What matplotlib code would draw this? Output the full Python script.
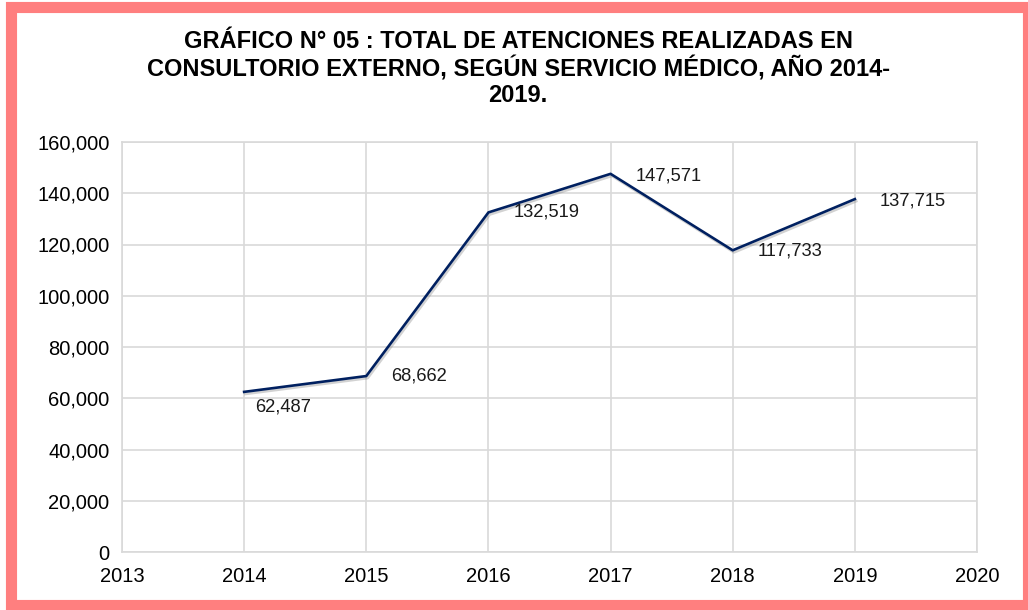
import matplotlib
matplotlib.use("Agg")
import matplotlib.pyplot as plt
import matplotlib.patheffects as pe
from matplotlib.patches import Rectangle
from matplotlib.ticker import FuncFormatter

# ---------------------------
# Data
# ---------------------------
years = [2014, 2015, 2016, 2017, 2018, 2019]
atenciones = [62487, 68662, 132519, 147571, 117733, 137715]
# label offsets in pixels (dx, dy)
label_offsets = [(11, -15), (25, 0), (25, 0), (25, -2), (25, -1), (25, -2)]

plt.rcParams["font.family"] = ["Liberation Sans", "DejaVu Sans"]

fig = plt.figure(figsize=(10.28, 6.10), dpi=100)
fig.patch.set_facecolor("white")

# pink frame around the chart
frame = Rectangle((10.5 / 1028, 5 / 610), (1028 - 10.5) / 1028, (604 - 5 - 1) / 610,
                  transform=fig.transFigure, fill=False,
                  edgecolor="#FF7F7F", linewidth=8, zorder=0)
fig.patches.append(frame)

ax = fig.add_axes([122 / 1028, 1 - 552 / 610, (977 - 122) / 1028, (552 - 142) / 610])

ax.plot(years, atenciones, color="#002060", linewidth=1.9, zorder=3,
        path_effects=[pe.SimpleLineShadow(offset=(1, -1.5), shadow_color="grey", alpha=0.35),
                      pe.Normal()])

for x, y, (dx, dy) in zip(years, atenciones, label_offsets):
    ax.annotate(f"{y:,}", (x, y), xytext=(dx, dy), textcoords="offset pixels",
                ha="left", va="center", fontsize=13.2, color="#1a1a1a")

ax.set_xlim(2013, 2020)
ax.set_ylim(0, 160000)
ax.set_xticks(range(2013, 2021))
ax.set_yticks(range(0, 160001, 20000))
ax.yaxis.set_major_formatter(FuncFormatter(lambda v, p: f"{int(v):,}"))
ax.grid(True, color="#D9D9D9", linewidth=1.2)
ax.set_axisbelow(True)
for s in ax.spines.values():
    s.set_color("#D9D9D9")
    s.set_linewidth(1.2)
ax.tick_params(length=0, labelsize=14.5, colors="black")
ax.tick_params(axis="x", pad=11)
ax.tick_params(axis="y", pad=9)

fig.text(0.504, 0.950,
         "GRÁFICO N° 05 : TOTAL DE ATENCIONES REALIZADAS EN\n"
         "CONSULTORIO EXTERNO, SEGÚN SERVICIO MÉDICO, AÑO 2014-\n"
         "2019.",
         ha="center", va="top", fontsize=17, fontweight="bold",
         linespacing=1.15)

fig.savefig("out.png", dpi=100)
